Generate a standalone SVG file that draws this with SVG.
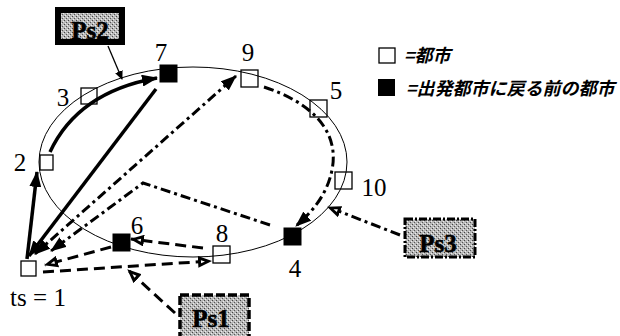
<svg xmlns="http://www.w3.org/2000/svg" width="620" height="336" viewBox="0 0 620 336">
<defs>
<pattern id="stip" width="4" height="4" patternUnits="userSpaceOnUse">
<rect width="4" height="4" fill="#b8b8b8"/>
<rect x="0" y="0" width="1" height="1" fill="#444"/>
<rect x="2" y="2" width="1" height="1" fill="#555"/>
<rect x="3" y="1" width="1" height="1" fill="#eee"/>
<rect x="1" y="3" width="1" height="1" fill="#eee"/>
</pattern>
<marker id="ah" markerUnits="userSpaceOnUse" markerWidth="16" markerHeight="12" refX="15" refY="6" orient="auto-start-reverse">
<path d="M0,0 L16,6 L0,12 z" fill="#000"/>
</marker>
<marker id="ahh" markerUnits="userSpaceOnUse" markerWidth="14" markerHeight="12" refX="13" refY="6" orient="auto">
<path d="M0,0 L14,6 L0,12 z" fill="#000"/>
<path d="M3,4.5 L7,6 L3,7.5 z" fill="#fff"/>
</marker>
<marker id="as" markerUnits="userSpaceOnUse" markerWidth="9" markerHeight="8" refX="8" refY="4" orient="auto">
<path d="M0,0 L9,4 L0,8 z" fill="#000"/>
</marker>
<style>
.lbl{font-family:"Liberation Serif","Times New Roman",serif;font-size:25px;fill:#000;text-anchor:middle}
.ps{font-family:"Liberation Serif","Times New Roman",serif;font-size:25px;font-weight:bold;fill:#000;text-anchor:middle;stroke:#000;stroke-width:0.6}
.leg{font-family:"Noto Sans CJK JP",sans-serif;font-size:18px;font-style:italic;font-weight:bold;fill:#000}
.city{fill:none;stroke:#000;stroke-width:1.3}
.ret{fill:#000;stroke:#000;stroke-width:1}
.solid{fill:none;stroke:#000;stroke-width:3.5}
.dash{fill:none;stroke:#000;stroke-width:3;stroke-dasharray:11 6}
.dd{fill:none;stroke:#000;stroke-width:3;stroke-dasharray:10 4 3 4}
</style>
</defs>
<rect width="620" height="336" fill="#fff"/>
<g id="tour">
<ellipse cx="193" cy="162" rx="154" ry="95" fill="none" stroke="#000" stroke-width="1"/>
</g>
<g id="connectors">
<path class="solid" d="M27,259 L37,172" stroke-width="3" marker-end="url(#ah)"/>
<path class="solid" d="M50,152 Q78,92 157,78" marker-end="url(#ah)"/>
<path class="solid" d="M156,89 L29,256" marker-end="url(#ah)"/>
<path class="dd" d="M35,254 L236,76" marker-start="url(#ah)" marker-end="url(#ah)"/>
<path class="dd" d="M264,87 C310,102 340,130 332,170 C327,195 312,212 296,226" marker-end="url(#ah)"/>
<path class="dd" d="M270,225 L143,183 L51,251" marker-end="url(#ah)"/>
<path class="dash" d="M43,272 L211,261" marker-end="url(#ahh)"/>
<path class="dash" d="M203,248 L131,239" marker-end="url(#ahh)"/>
<path class="dash" d="M111,247 L45,265" marker-end="url(#ahh)"/>
<path d="M108,46 L122,79" fill="none" stroke="#000" stroke-width="1.3" marker-end="url(#as)"/>
<path class="dash" d="M175,313 L128,270" marker-end="url(#ahh)"/>
<path class="dd" d="M400,235 L328,207" stroke-width="2.5" marker-end="url(#ahh)"/>
</g>
<g id="n1"><rect class="city" x="21" y="261" width="15" height="15"/><text class="lbl" x="38" y="306">ts = 1</text></g>
<g id="n2"><rect class="city" x="40" y="155" width="13" height="15"/><text class="lbl" x="20" y="171">2</text></g>
<g id="n3"><rect class="city" x="81" y="88" width="16" height="16"/><text class="lbl" x="63" y="106">3</text></g>
<g id="n7"><rect class="ret" x="160" y="65" width="17" height="17"/><text class="lbl" x="161" y="61">7</text></g>
<g id="n9"><rect class="city" x="241" y="70" width="17" height="17"/><text class="lbl" x="248" y="61">9</text></g>
<g id="n5"><rect class="city" x="310" y="100" width="17" height="17"/><text class="lbl" x="336" y="99">5</text></g>
<g id="n10"><rect class="city" x="335" y="172" width="17" height="17"/><text class="lbl" x="374" y="196">10</text></g>
<g id="n4"><rect class="ret" x="284" y="228" width="17" height="17"/><text class="lbl" x="295" y="277">4</text></g>
<g id="n8"><rect class="city" x="213" y="246" width="17" height="17"/><text class="lbl" x="222" y="242">8</text></g>
<g id="n6"><rect class="ret" x="113" y="234" width="17" height="17"/><text class="lbl" x="137" y="234">6</text></g>
<g id="ps2"><rect x="58" y="10" width="64" height="32" fill="url(#stip)" stroke="#000" stroke-width="6"/><text class="ps" x="90" y="39">Ps2</text></g>
<g id="ps3"><rect x="405" y="219" width="70" height="38" fill="url(#stip)" stroke="#000" stroke-width="3" stroke-dasharray="8 2 2 2"/><text class="ps" x="438" y="252">Ps3</text></g>
<g id="ps1"><rect x="180" y="295" width="69" height="44" fill="url(#stip)" stroke="#000" stroke-width="3.5" stroke-dasharray="9 3"/><text class="ps" x="211" y="327">Ps1</text></g>
<g id="legend">
<rect x="379" y="48" width="16" height="15" fill="none" stroke="#000" stroke-width="1.3"/>
<text class="leg" x="404" y="62">=都市</text>
<rect x="378" y="79" width="17" height="17" fill="#000"/>
<text class="leg" x="406" y="95">=出発都市に戻る前の都市</text>
</g>
</svg>
